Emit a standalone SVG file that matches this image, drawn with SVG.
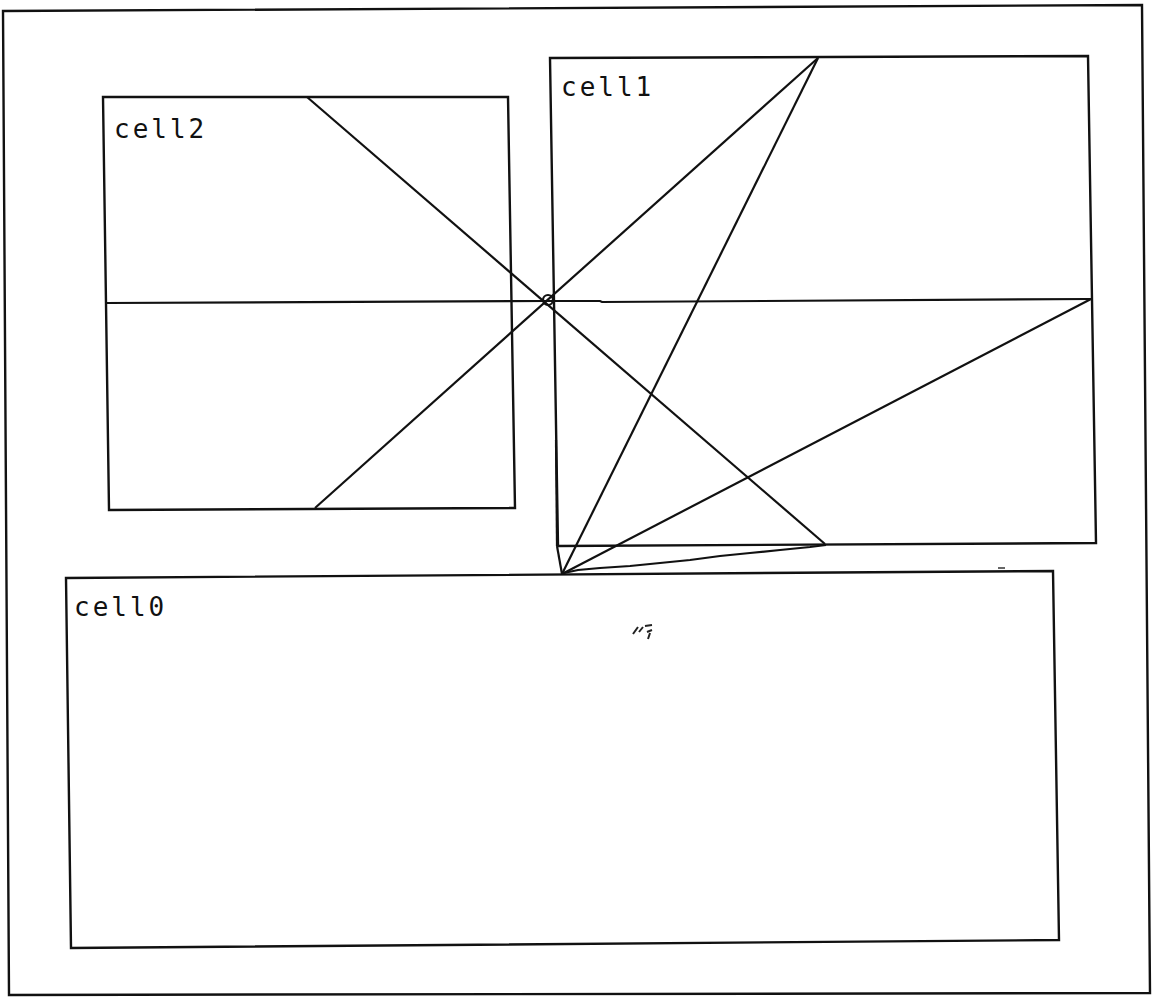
<svg xmlns="http://www.w3.org/2000/svg" width="1152" height="997" viewBox="0 0 1152 997">
<style>
.box{fill:none;stroke:#111;stroke-width:2.4;stroke-linejoin:miter}
.ln{fill:none;stroke:#111;stroke-width:2.2}
.lbl{font-family:"DejaVu Sans Mono","Liberation Mono",monospace;font-size:26px;letter-spacing:3px;fill:#111}
</style>
<rect width="1152" height="997" fill="#fff"/>
<g id="frame"><polygon class="box" points="3,11 1142,5 1150,993 9,995"/></g>
<g id="cell2">
<polygon class="box" points="103,97 508,97 515,508 109,510"/>
<text class="lbl" x="114" y="138">cell2</text>
</g>
<g id="cell1">
<polygon class="box" points="550,58 1088,56 1096,543 558,546"/>
<text class="lbl" x="561" y="96">cell1</text>
</g>
<g id="cell0">
<polygon class="box" points="66,578 1053,571 1059,940 71,948"/>
<text class="lbl" x="74" y="616">cell0</text>
</g>
<g id="connectors">
<polyline class="ln" points="106,303 545,301 600,301 602,302 1091,299"/>
<line class="ln" x1="307" y1="97" x2="825" y2="544"/>
<line class="ln" x1="315" y1="508" x2="818" y2="58"/>
<line class="ln" x1="818" y1="58" x2="562" y2="574"/>
<line class="ln" x1="1091" y1="299" x2="562" y2="574"/>
<polyline class="ln" points="564,573 578,570 600,568 630,566 660,563 690,560 720,556 750,553 780,550 810,547 826,545"/>
<line class="ln" x1="557" y1="546" x2="562" y2="574" stroke-width="1.6"/>
<line class="ln" x1="556" y1="440" x2="557" y2="546" stroke-width="3"/>
<circle class="ln" cx="548" cy="300" r="5"/>
</g>
<g id="marks">
<path d="M633,634 l5,-7 M639,632 l4,-5 M645,626 l7,-1 M647,632 l5,-2 M648,639 l2,-6" stroke="#222" stroke-width="2" fill="none"/>
<line x1="998" y1="568" x2="1005" y2="568" stroke="#333" stroke-width="1.5"/>
</g>
</svg>
